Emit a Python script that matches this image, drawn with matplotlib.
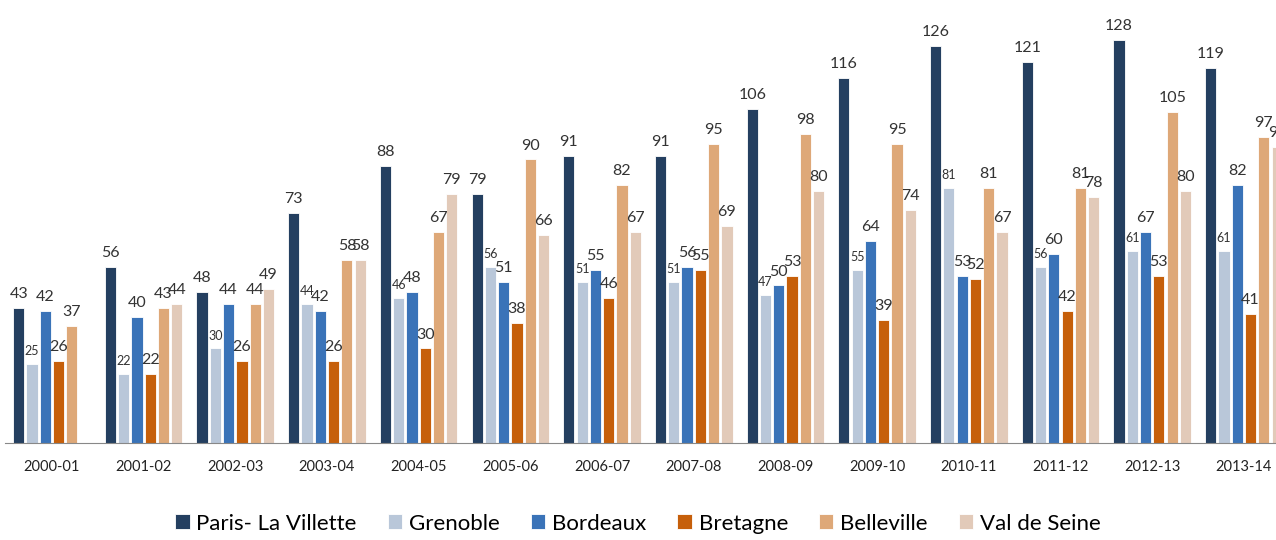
import numpy as np
import matplotlib.pyplot as plt

plt.rcParams['font.family'] = ['Lato', 'DejaVu Sans']

seasons = ["2000-01", "2001-02", "2002-03", "2003-04", "2004-05", "2005-06", "2006-07",
           "2007-08", "2008-09", "2009-10", "2010-11", "2011-12", "2012-13", "2013-14"]

paris = [43, 56, 48, 73, 88, 79, 91, 91, 106, 116, 126, 121, 128, 119]
grenoble = [25, 22, 30, 44, 46, 56, 51, 51, 47, 55, 81, 56, 61, 61]
bordeaux = [42, 40, 44, 42, 48, 51, 55, 56, 50, 64, 53, 60, 67, 82]
bretagne = [26, 22, 26, 26, 30, 38, 46, 55, 53, 39, 52, 42, 53, 41]
belleville = [37, 43, 44, 58, 67, 90, 82, 95, 98, 95, 81, 81, 105, 97]
val_de_seine = [np.nan, 44, 49, 58, 79, 66, 67, 69, 80, 74, 67, 78, 80, 94]

series = [
    ("Paris- La Villette", paris, "#243F60"),
    ("Grenoble", grenoble, "#B9C7D9"),
    ("Bordeaux", bordeaux, "#3A73B8"),
    ("Bretagne", bretagne, "#C65F0A"),
    ("Belleville", belleville, "#DEA878"),
    ("Val de Seine", val_de_seine, "#E2CAB9"),
]

fig = plt.figure(figsize=(12.76, 5.4), dpi=100)
ax = fig.add_axes([0.004, 0.1796, 0.996, 0.811])

x = np.arange(len(seasons))
pitch = 0.145
width = 0.122

for i, (name, vals, color) in enumerate(series):
    pos = x + (i - 2.5) * pitch
    bars = ax.bar(pos, vals, width, color=color, edgecolor="white", linewidth=0.6, label=name)
    size = 9 if name == "Grenoble" else 11.5
    for b, v in zip(bars, vals):
        if np.isnan(v):
            continue
        ax.annotate(f"{v:.0f}", (b.get_x() + b.get_width() / 2, v),
                    xytext=(0, 5), textcoords="offset points",
                    ha="center", va="bottom", fontsize=size, color="#333333",
                    annotation_clip=False)

ax.set_xlim(-0.51, 13.35)
ax.set_ylim(0, 139)
ax.set_xticks(x)
ax.set_xticklabels(seasons, fontsize=10.5, color="#222222")
ax.tick_params(axis="x", length=0, pad=12)
ax.set_yticks([])
for s in ["top", "right", "left"]:
    ax.spines[s].set_visible(False)
ax.spines["bottom"].set_color("#888888")

fig.legend(loc="lower center", ncol=6, bbox_to_anchor=(0.5, -0.025), frameon=False,
           fontsize=16, handlelength=0.65, handleheight=0.65, handletextpad=0.3,
           columnspacing=1.4)

fig.savefig("out.png", dpi=100)
